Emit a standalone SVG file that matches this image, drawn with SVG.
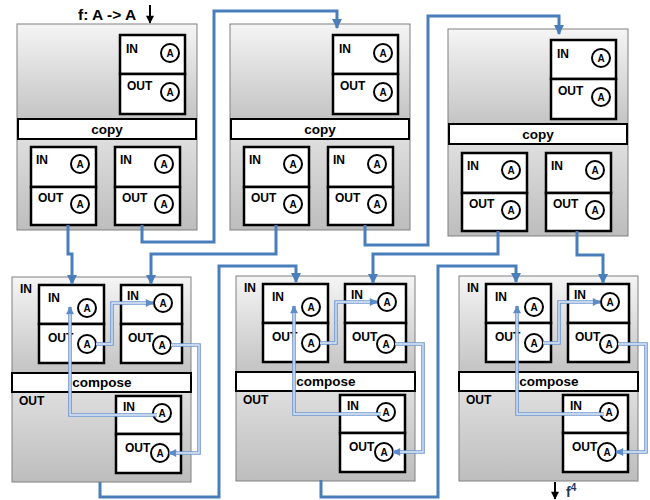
<svg xmlns="http://www.w3.org/2000/svg" width="650" height="500" viewBox="0 0 650 500">
<defs>
<linearGradient id="g" x1="0" y1="0" x2="0" y2="1">
<stop offset="0" stop-color="#f5f5f5"/>
<stop offset="0.46" stop-color="#c4c4c4"/>
<stop offset="0.56" stop-color="#dedede"/>
<stop offset="1" stop-color="#bdbdbd"/>
</linearGradient>
<marker id="ah" viewBox="0 0 10 10" refX="9" refY="5" markerWidth="12" markerHeight="10" markerUnits="userSpaceOnUse" orient="auto">
<path d="M0,0 L10,5 L0,10 z" fill="#4a7ebb"/>
</marker>
<marker id="ah2" viewBox="0 0 10 10" refX="9" refY="5" markerWidth="9" markerHeight="8" markerUnits="userSpaceOnUse" orient="auto">
<path d="M0,0 L10,5 L0,10 z" fill="#5d8ccb"/>
</marker>
<marker id="ahk" viewBox="0 0 10 10" refX="9" refY="5" markerWidth="9" markerHeight="8" markerUnits="userSpaceOnUse" orient="auto">
<path d="M0,0 L10,5 L0,10 z" fill="#000"/>
</marker>
<style>
.outer{fill:url(#g);stroke:#808080;stroke-width:1}
.box{fill:#fff;stroke:#000;stroke-width:2.5}
.bar{fill:#fff;stroke:#000;stroke-width:2}
.c{fill:#fff;stroke:#000;stroke-width:2}
.t{font-family:"Liberation Sans",Arial,sans-serif;font-weight:bold;font-size:12px;fill:#000}
.a{font-family:"Liberation Sans",Arial,sans-serif;font-weight:bold;font-size:10px;text-anchor:middle}
.bt{font-family:"Liberation Sans",Arial,sans-serif;font-weight:bold;font-size:13.5px;text-anchor:middle}
.wire{fill:none;stroke:#4a7ebb;stroke-width:3}
.w2o{fill:none;stroke:#6f98cf;stroke-width:3.6}
.w2i{fill:none;stroke:#e3ecf7;stroke-width:1.3}
</style>
</defs>

<text x="78" y="20" style="font-family:'Liberation Sans',Arial,sans-serif;font-weight:bold;font-size:15.5px">f: A -&gt; A</text>
<path d="M150,5 V23" stroke="#000" stroke-width="2" fill="none" marker-end="url(#ahk)"/>

<g id="copy1" transform="translate(17,24)">
<rect class="outer" x="0" y="0" width="180" height="206"/>
<rect class="box" x="103" y="11" width="65" height="39"/><rect class="box" x="103" y="50" width="65" height="40"/>
<text class="t" x="109" y="29">IN</text><circle class="c" cx="153" cy="29" r="9"/><text class="a" x="153" y="32.5">A</text>
<text class="t" x="110" y="66">OUT</text><circle class="c" cx="153" cy="68" r="9"/><text class="a" x="153" y="71.5">A</text>
<rect class="bar" x="1" y="95" width="178" height="20"/><text class="bt" x="90" y="110">copy</text>
<rect class="box" x="14" y="123" width="65" height="40"/><rect class="box" x="14" y="163" width="65" height="38"/>
<text class="t" x="19" y="140">IN</text><circle class="c" cx="63" cy="140" r="9"/><text class="a" x="63" y="143.5">A</text>
<text class="t" x="21" y="178">OUT</text><circle class="c" cx="63" cy="180" r="9"/><text class="a" x="63" y="183.5">A</text>
<rect class="box" x="98" y="123" width="65" height="40"/><rect class="box" x="98" y="163" width="65" height="38"/>
<text class="t" x="103" y="140">IN</text><circle class="c" cx="147" cy="140" r="9"/><text class="a" x="147" y="143.5">A</text>
<text class="t" x="105" y="178">OUT</text><circle class="c" cx="147" cy="180" r="9"/><text class="a" x="147" y="183.5">A</text>
</g>

<g id="copy2" transform="translate(230,24)">
<rect class="outer" x="0" y="0" width="180" height="206"/>
<rect class="box" x="103" y="11" width="65" height="39"/><rect class="box" x="103" y="50" width="65" height="40"/>
<text class="t" x="109" y="29">IN</text><circle class="c" cx="153" cy="29" r="9"/><text class="a" x="153" y="32.5">A</text>
<text class="t" x="110" y="66">OUT</text><circle class="c" cx="153" cy="68" r="9"/><text class="a" x="153" y="71.5">A</text>
<rect class="bar" x="1" y="95" width="178" height="20"/><text class="bt" x="90" y="110">copy</text>
<rect class="box" x="14" y="123" width="65" height="40"/><rect class="box" x="14" y="163" width="65" height="38"/>
<text class="t" x="19" y="140">IN</text><circle class="c" cx="63" cy="140" r="9"/><text class="a" x="63" y="143.5">A</text>
<text class="t" x="21" y="178">OUT</text><circle class="c" cx="63" cy="180" r="9"/><text class="a" x="63" y="183.5">A</text>
<rect class="box" x="98" y="123" width="65" height="40"/><rect class="box" x="98" y="163" width="65" height="38"/>
<text class="t" x="103" y="140">IN</text><circle class="c" cx="147" cy="140" r="9"/><text class="a" x="147" y="143.5">A</text>
<text class="t" x="105" y="178">OUT</text><circle class="c" cx="147" cy="180" r="9"/><text class="a" x="147" y="183.5">A</text>
</g>

<g id="copy3" transform="translate(448,29)">
<rect class="outer" x="0" y="0" width="180" height="207"/>
<rect class="box" x="103" y="11" width="65" height="39"/><rect class="box" x="103" y="50" width="65" height="40"/>
<text class="t" x="109" y="29">IN</text><circle class="c" cx="153" cy="29" r="9"/><text class="a" x="153" y="32.5">A</text>
<text class="t" x="110" y="66">OUT</text><circle class="c" cx="153" cy="68" r="9"/><text class="a" x="153" y="71.5">A</text>
<rect class="bar" x="1" y="95" width="178" height="20"/><text class="bt" x="90" y="110">copy</text>
<rect class="box" x="14" y="124" width="65" height="40"/><rect class="box" x="14" y="164" width="65" height="38"/>
<text class="t" x="19" y="141">IN</text><circle class="c" cx="63" cy="141" r="9"/><text class="a" x="63" y="144.5">A</text>
<text class="t" x="21" y="179">OUT</text><circle class="c" cx="63" cy="181" r="9"/><text class="a" x="63" y="184.5">A</text>
<rect class="box" x="98" y="124" width="65" height="40"/><rect class="box" x="98" y="164" width="65" height="38"/>
<text class="t" x="103" y="141">IN</text><circle class="c" cx="147" cy="141" r="9"/><text class="a" x="147" y="144.5">A</text>
<text class="t" x="105" y="179">OUT</text><circle class="c" cx="147" cy="181" r="9"/><text class="a" x="147" y="184.5">A</text>
</g>

<g id="compose1" transform="translate(12,277)">
<rect class="outer" x="0" y="0" width="179" height="205"/>
<text class="t" x="8" y="16">IN</text><text class="t" x="7" y="128">OUT</text>
<rect class="box" x="27" y="8" width="65" height="39"/><rect class="box" x="27" y="47" width="65" height="39"/>
<text class="t" x="36" y="25">IN</text><circle class="c" cx="75" cy="31" r="9"/><text class="a" x="75" y="34.5">A</text>
<text class="t" x="36" y="65">OUT</text><circle class="c" cx="75" cy="67" r="9"/><text class="a" x="75" y="70.5">A</text>
<rect class="box" x="109" y="8" width="61" height="39"/><rect class="box" x="109" y="47" width="61" height="39"/>
<text class="t" x="115" y="23">IN</text><circle class="c" cx="151" cy="26" r="9"/><text class="a" x="151" y="29.5">A</text>
<text class="t" x="116" y="65">OUT</text><circle class="c" cx="150" cy="68" r="9"/><text class="a" x="150" y="71.5">A</text>
<rect class="bar" x="0" y="96" width="179" height="19"/><text class="bt" x="90" y="110">compose</text>
<rect class="box" x="104" y="119" width="65" height="38"/><rect class="box" x="104" y="157" width="65" height="39"/>
<text class="t" x="111" y="134">IN</text><circle class="c" cx="150" cy="136" r="9"/><text class="a" x="150" y="139.5">A</text>
<text class="t" x="113" y="175">OUT</text><circle class="c" cx="148" cy="176" r="9"/><text class="a" x="148" y="179.5">A</text>
</g>

<g id="compose2" transform="translate(236,276)">
<rect class="outer" x="0" y="0" width="179" height="205"/>
<text class="t" x="8" y="16">IN</text><text class="t" x="7" y="128">OUT</text>
<rect class="box" x="27" y="8" width="65" height="39"/><rect class="box" x="27" y="47" width="65" height="39"/>
<text class="t" x="36" y="25">IN</text><circle class="c" cx="75" cy="31" r="9"/><text class="a" x="75" y="34.5">A</text>
<text class="t" x="36" y="65">OUT</text><circle class="c" cx="75" cy="67" r="9"/><text class="a" x="75" y="70.5">A</text>
<rect class="box" x="109" y="8" width="61" height="39"/><rect class="box" x="109" y="47" width="61" height="39"/>
<text class="t" x="115" y="23">IN</text><circle class="c" cx="151" cy="26" r="9"/><text class="a" x="151" y="29.5">A</text>
<text class="t" x="116" y="65">OUT</text><circle class="c" cx="150" cy="68" r="9"/><text class="a" x="150" y="71.5">A</text>
<rect class="bar" x="0" y="96" width="179" height="19"/><text class="bt" x="90" y="110">compose</text>
<rect class="box" x="104" y="119" width="65" height="38"/><rect class="box" x="104" y="157" width="65" height="39"/>
<text class="t" x="111" y="134">IN</text><circle class="c" cx="150" cy="136" r="9"/><text class="a" x="150" y="139.5">A</text>
<text class="t" x="113" y="175">OUT</text><circle class="c" cx="148" cy="176" r="9"/><text class="a" x="148" y="179.5">A</text>
</g>

<g id="compose3" transform="translate(459,276)">
<rect class="outer" x="0" y="0" width="179" height="205"/>
<text class="t" x="8" y="16">IN</text><text class="t" x="7" y="128">OUT</text>
<rect class="box" x="27" y="8" width="65" height="39"/><rect class="box" x="27" y="47" width="65" height="39"/>
<text class="t" x="36" y="25">IN</text><circle class="c" cx="75" cy="31" r="9"/><text class="a" x="75" y="34.5">A</text>
<text class="t" x="36" y="65">OUT</text><circle class="c" cx="75" cy="67" r="9"/><text class="a" x="75" y="70.5">A</text>
<rect class="box" x="109" y="8" width="61" height="39"/><rect class="box" x="109" y="47" width="61" height="39"/>
<text class="t" x="115" y="23">IN</text><circle class="c" cx="151" cy="26" r="9"/><text class="a" x="151" y="29.5">A</text>
<text class="t" x="116" y="65">OUT</text><circle class="c" cx="150" cy="68" r="9"/><text class="a" x="150" y="71.5">A</text>
<rect class="bar" x="0" y="96" width="179" height="19"/><text class="bt" x="90" y="110">compose</text>
<rect class="box" x="104" y="119" width="65" height="38"/><rect class="box" x="104" y="157" width="65" height="39"/>
<text class="t" x="111" y="134">IN</text><circle class="c" cx="150" cy="136" r="9"/><text class="a" x="150" y="139.5">A</text>
<text class="t" x="113" y="175">OUT</text><circle class="c" cx="148" cy="176" r="9"/><text class="a" x="148" y="179.5">A</text>
</g>

<g id="connectors">
<path class="wire" d="M68,225 V254 H72 V284" marker-end="url(#ah)"/>
<path class="wire" d="M142,225 V242 H214 V11 H337 V28" marker-end="url(#ah)"/>
<path class="wire" d="M365,225 V245 H428 V16 H559 V34" marker-end="url(#ah)"/>
<path class="wire" d="M276,225 V254 H151 V284" marker-end="url(#ah)"/>
<path class="wire" d="M498,231 V254 H373 V283" marker-end="url(#ah)"/>
<path class="wire" d="M577,231 V255 H603 V283" marker-end="url(#ah)"/>
<path class="wire" d="M100,482 V497 H219 V266 H296 V282" marker-end="url(#ah)"/>
<path class="wire" d="M321,480 V497 H438 V266 H516 V282" marker-end="url(#ah)"/>
<g transform="translate(12,277)">
<path class="w2o" d="M84,67 H100 V26 H141" marker-end="url(#ah2)"/><path class="w2i" d="M84,67 H100 V26 H134"/>
<path class="w2o" d="M159,68 H187 V176 H157" marker-end="url(#ah2)"/><path class="w2i" d="M159,68 H187 V176 H164"/>
<path class="w2o" d="M145,138 H58 V30" marker-end="url(#ah2)"/><path class="w2i" d="M145,138 H58 V37"/>
</g>
<g transform="translate(236,276)">
<path class="w2o" d="M84,67 H100 V26 H141" marker-end="url(#ah2)"/><path class="w2i" d="M84,67 H100 V26 H134"/>
<path class="w2o" d="M159,68 H187 V176 H157" marker-end="url(#ah2)"/><path class="w2i" d="M159,68 H187 V176 H164"/>
<path class="w2o" d="M145,138 H58 V30" marker-end="url(#ah2)"/><path class="w2i" d="M145,138 H58 V37"/>
</g>
<g transform="translate(459,276)">
<path class="w2o" d="M84,67 H100 V26 H141" marker-end="url(#ah2)"/><path class="w2i" d="M84,67 H100 V26 H134"/>
<path class="w2o" d="M159,68 H187 V176 H157" marker-end="url(#ah2)"/><path class="w2i" d="M159,68 H187 V176 H164"/>
<path class="w2o" d="M145,138 H58 V30" marker-end="url(#ah2)"/><path class="w2i" d="M145,138 H58 V37"/>
</g>
</g>

<path d="M555,482 V499" stroke="#000" stroke-width="2" fill="none" marker-end="url(#ahk)"/>
<text x="566" y="497" style="font-family:'Liberation Sans',Arial,sans-serif;font-weight:bold;font-size:14px;fill:#1f3864">f<tspan dy="-6" font-size="10">4</tspan></text>
</svg>
